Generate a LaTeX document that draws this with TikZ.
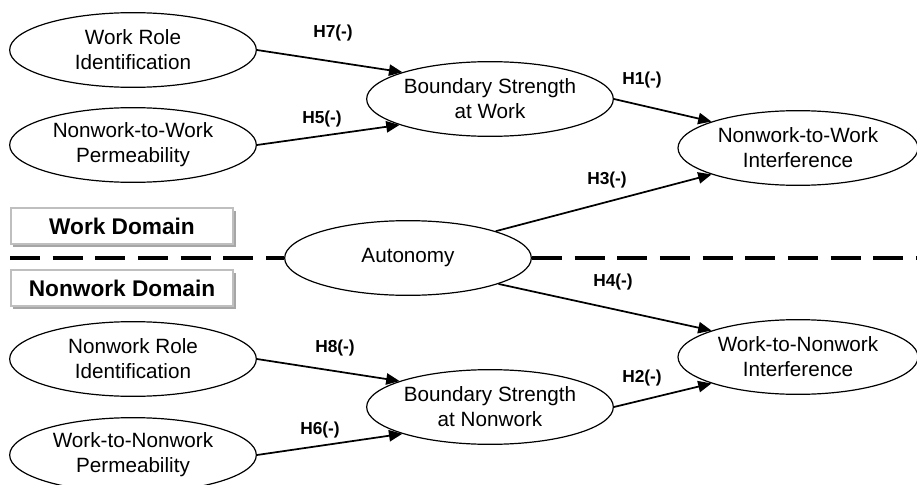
\documentclass[tikz,border=0pt]{standalone}
\usepackage{fontspec}
\setmainfont{Liberation Sans}
\usetikzlibrary{shapes.geometric}
\usetikzlibrary{arrows.meta}
\usetikzlibrary{shadows}

\begin{document}
\begin{tikzpicture}[x=0.75pt, y=-0.75pt,
    every node/.style={font=\fontsize{15.5}{18.8}\selectfont, align=center},
    var/.style={draw, ellipse, line width=0.9pt, minimum width=185pt, minimum height=56pt, inner sep=0pt},
    hyp/.style={font=\fontsize{13}{15}\selectfont\bfseries},
    domainbox/.style={draw=gray!50, line width=1.5pt, fill=white, minimum width=167pt, minimum height=27pt,
        font=\fontsize{17}{19}\selectfont\bfseries, drop shadow={shadow xshift=2pt, shadow yshift=-2pt, fill=gray!70, opacity=1}},
    arr/.style={-{Triangle[length=10pt, width=8.5pt]}, line width=1.3pt}]
            \useasboundingbox (0,0) rectangle (917,485);

            % Nodos
            \node[var] (wri) at (133,50) {Work Role\\Identification};
            \node[var] (nwp) at (133,145) {Nonwork-to-Work\\Permeability};
            \node[var] (bsw) at (490,99) {Boundary Strength\\at Work};
            \node[var, minimum width=180pt] (nwi) at (798,148) {Nonwork-to-Work\\Interference};
            \node[var] (aut) at (408,258) {Autonomy};
            \node[var, minimum width=180pt] (wni) at (798,357) {Work-to-Nonwork\\Interference};
            \node[var] (bsn) at (490,407) {Boundary Strength\\at Nonwork};
            \node[var] (nri) at (133,359) {Nonwork Role\\Identification};
            \node[var] (wnp) at (133,455) {Work-to-Nonwork\\Permeability};

            \node[domainbox] (wd) at (122,226) {Work Domain};
            \node[domainbox] (nd) at (122,288) {Nonwork Domain};

            \node[hyp] (h7) at (333,33) {H7(-)};
            \node[hyp] (h5) at (322,119) {H5(-)};
            \node[hyp] (h1) at (642,80) {H1(-)};
            \node[hyp] (h3) at (607,180) {H3(-)};
            \node[hyp] (h4) at (613,282) {H4(-)};
            \node[hyp] (h2) at (642,378) {H2(-)};
            \node[hyp] (h8) at (335,348) {H8(-)};
            \node[hyp] (h6) at (320,430) {H6(-)};

            \coordinate (dl) at (10,258);
            \coordinate (dr) at (917,258);

            % Linea de dominios
            \draw[line width=3.5pt, dash pattern=on 22.5pt off 9.5pt] (dl) -- (aut.west);
            \draw[line width=3.5pt, dash pattern=on 22.5pt off 9.5pt] (aut.east) -- (dr);

            % Flechas
            \draw[arr] (wri.east) -- (bsw.163);
            \draw[arr] (nwp.east) -- (bsw.196);
            \draw[arr] (bsw.east) -- (nwi.163);
            \draw[arr] (aut.17) -- (nwi.197);
            \draw[arr] (aut.-16) -- (wni.163);
            \draw[arr] (bsn.east) -- (wni.197);
            \draw[arr] (nri.east) -- (bsn.164);
            \draw[arr] (wnp.east) -- (bsn.197);
          \end{tikzpicture}
\end{document}
